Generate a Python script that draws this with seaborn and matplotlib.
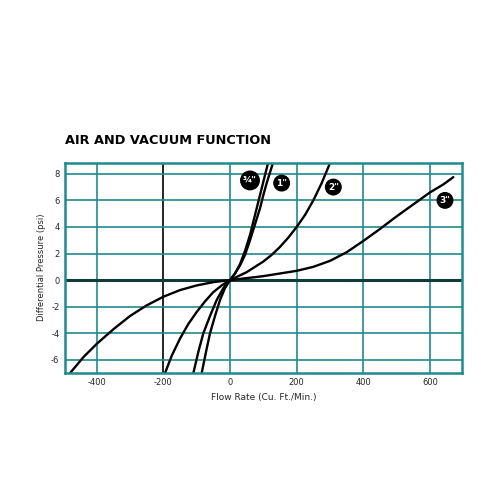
import matplotlib
matplotlib.use("Agg")
import matplotlib.pyplot as plt
import seaborn as sns
import pandas as pd

x_34 = [-110, -95, -80, -60, -40, -20, 0, 15, 30, 45, 60, 70, 80, 90, 100, 108, 115]
y_34 = [-7, -5.4, -4, -2.7, -1.5, -0.6, 0, 0.5, 1.2, 2.2, 3.4, 4.4, 5.4, 6.4, 7.4, 8.2, 8.9]
x_1 = [-85, -72, -60, -45, -30, -15, 0, 15, 30, 45, 60, 75, 90, 100, 110, 120, 130]
y_1 = [-7, -5.4, -4, -2.7, -1.5, -0.6, 0, 0.5, 1.1, 1.9, 3.0, 4.2, 5.4, 6.4, 7.3, 8.1, 8.9]
x_2 = [-195, -175, -150, -125, -100, -75, -50, -25, 0, 25, 50, 75, 100, 125, 150, 175, 200, 225, 250, 275, 300]
y_2 = [-7, -5.7, -4.4, -3.3, -2.4, -1.6, -0.9, -0.4, 0, 0.3, 0.6, 1.0, 1.4, 1.9, 2.5, 3.2, 4.0, 4.9, 6.0, 7.3, 8.8]
x_3 = [-480, -440, -400, -350, -300, -250, -200, -150, -100, -50, 0, 50, 100, 150, 200, 250, 300, 350, 400, 450, 500, 550, 600, 640, 670]
y_3 = [-7, -5.8, -4.8, -3.7, -2.7, -1.9, -1.25, -0.75, -0.4, -0.15, 0, 0.15, 0.3, 0.5, 0.7, 1.0, 1.45, 2.1, 2.95, 3.85, 4.8, 5.7, 6.6, 7.2, 7.75]
labels = ['¾"', '1"', '2"', '3"']
label_pos = [(60, 7.5), (155, 7.3), (310, 7.0), (645, 6.0)]

sns.set_style("white")
plt.rcParams["axes.unicode_minus"] = False
teal = "#1f8a8f"
fig = plt.figure(figsize=(5, 5), dpi=100)
ax = fig.add_axes([0.13, 0.255, 0.794, 0.42])
for xs, ys in zip([x_34, x_1, x_2, x_3], [y_34, y_1, y_2, y_3]):
    df = pd.DataFrame({"x": xs, "y": ys})
    sns.lineplot(data=df, x="x", y="y", ax=ax, color="black", lw=1.7, sort=False)
for lab, (px, py) in zip(labels, label_pos):
    ax.text(px, py, lab, ha="center", va="center", color="white", fontsize=6.5, fontweight="bold",
            bbox=dict(boxstyle="circle,pad=0.25", fc="black", ec="black"), zorder=5)
ax.set_xlim(-495, 696)
ax.set_ylim(-6.95, 8.85)
ax.set_xticks([-400, -200, 0, 200, 400, 600])
ax.set_yticks([-6, -4, -2, 0, 2, 4, 6, 8])
for v in [-400, 0, 200, 400, 600]:
    ax.axvline(v, color=teal, lw=1.2, zorder=0)
ax.axvline(-200, color="black", lw=1.2, zorder=0)
for v in [-6, -4, -2, 2, 4, 6, 8]:
    ax.axhline(v, color=teal, lw=1.2, zorder=0)
ax.axhline(0, color="#0f3b3b", lw=2.2, zorder=1)
for s in ax.spines.values():
    s.set_color(teal); s.set_linewidth(1.8)
ax.tick_params(labelsize=6, length=0, pad=4)
ax.set_xlabel("Flow Rate (Cu. Ft./Min.)", fontsize=6.5)
ax.set_ylabel("Differential Pressure (psi)", fontsize=6)
fig.text(0.13, 0.705, "AIR AND VACUUM FUNCTION", fontsize=9.3, fontweight="bold",
         color="black", ha="left", va="bottom")
fig.savefig("out.png", dpi=100)
